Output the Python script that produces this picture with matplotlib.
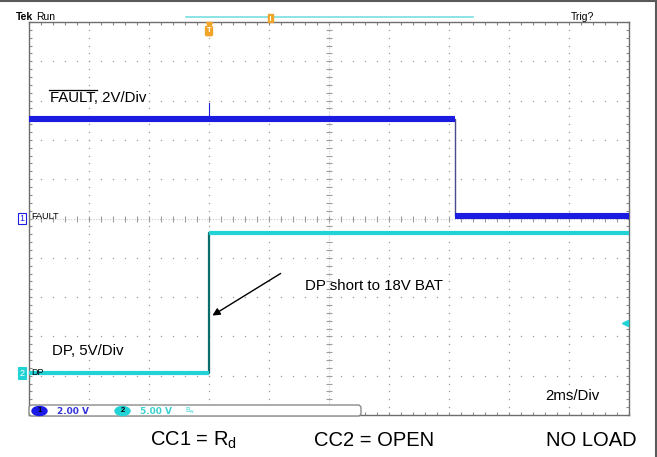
import matplotlib.pyplot as plt
import numpy as np
from matplotlib.patches import Ellipse, FancyBboxPatch, Rectangle

plt.rcParams['font.family'] = ['Liberation Sans', 'DejaVu Sans']

W, H = 657, 457
GX0, GX1, GY0, GY1 = 29, 629, 22, 415   # graticule box in pixels

# scope settings
ms_per_div = 2.0
ch1_volts_per_div, ch1_offset = 2.0, 0.0
ch2_volts_per_div, ch2_offset = 5.0, -3.94
trigger_time = 6.0      # ms
trigger_level = 6.4     # V on ch2

# FAULT (ch1): held levels, two points per segment
fault_t = [0.0, 14.2, 14.2, 20.0]
fault_v = [5.08, 5.08, 0.12, 0.12]
fault_glitch_t = [6.0, 6.0]
fault_glitch_v = [5.08, 5.9]

# DP (ch2)
dp_t = [0.0, 6.0, 6.0, 20.0]
dp_v = [0.0, 0.0, 17.9, 17.9]

FAULT_BLUE = '#1c1ce0'
DP_CYAN = '#22d3d6'
ORANGE = '#f0a428'
GRID = '#9c9c9c'


def to_div(v, scale, offset):
    return np.asarray(v, dtype=float) / scale + offset


fig = plt.figure(figsize=(W / 100, H / 100), dpi=100)
ax = fig.add_axes([GX0 / W, 1 - GY1 / H, (GX1 - GX0) / W, (GY1 - GY0) / H])
ax.set_xlim(0, 10 * ms_per_div)
ax.set_ylim(-5, 5)

# graticule
minor_x = np.arange(0, 10.01, 0.2) * ms_per_div
minor_y = np.arange(-5, 5.01, 0.2)
for k in range(1, 10):
    if k == 5:
        continue
    x = k * ms_per_div
    ax.plot(np.full_like(minor_y, x), minor_y, ls='none', marker='s', ms=0.9, mew=0, color=GRID)
for k in range(-4, 5):
    if k == 0:
        continue
    ax.plot(minor_x, np.full_like(minor_x, k), ls='none', marker='s', ms=0.9, mew=0, color=GRID)
ax.axhline(0, color='#c8c8c8', lw=0.8, ls=(0, (1, 1.5)))
ax.axvline(5 * ms_per_div, color='#c8c8c8', lw=0.8, ls=(0, (1, 1.5)))
ax.plot(minor_x, np.zeros_like(minor_x), ls='none', marker='|', ms=4, mew=0.8, color=GRID)
ax.plot(np.full_like(minor_y, 5 * ms_per_div), minor_y, ls='none', marker='_', ms=4, mew=0.8, color=GRID)

ax.set_xticks([])
ax.set_yticks([])
ax.set_xticks(minor_x, minor=True)
ax.set_yticks(minor_y, minor=True)
ax.tick_params(which='minor', direction='in', length=2.5, width=0.8, color='#8a8a8a',
               top=True, right=True, labelbottom=False, labelleft=False)
for s in ax.spines.values():
    s.set_color('#6e6e6e')
    s.set_linewidth(1)

# traces
fy = to_div(fault_v, ch1_volts_per_div, ch1_offset)
ax.plot(fault_t, fy, color='#4a4a8c', lw=1.0, zorder=3)
for i in range(0, len(fault_t), 2):
    ax.plot(fault_t[i:i + 2], fy[i:i + 2], color=FAULT_BLUE, lw=4.4, solid_capstyle='butt', zorder=4)
ax.plot(fault_glitch_t, to_div(fault_glitch_v, ch1_volts_per_div, ch1_offset),
        color=FAULT_BLUE, lw=0.8, zorder=4)

dy = to_div(dp_v, ch2_volts_per_div, ch2_offset)
ax.plot(dp_t, dy, color='#0d6b6b', lw=1.6, zorder=3)
for i in range(0, len(dp_t), 2):
    ax.plot(dp_t[i:i + 2], dy[i:i + 2], color=DP_CYAN, lw=3.0, solid_capstyle='butt', zorder=4)

ax.plot([19.85], to_div([trigger_level], ch2_volts_per_div, ch2_offset), ls='none',
        marker='<', ms=4, color=DP_CYAN, zorder=5)

# overlay in pixel coordinates for the scope chrome and annotations
ov = fig.add_axes([0, 0, 1, 1])
ov.set_xlim(0, W)
ov.set_ylim(H, 0)
ov.axis('off')

ov.plot([0, 655.5], [1, 1], color='#5a5a5a', lw=1.5)
ov.plot([655.5, 655.5], [1, H], color='#5a5a5a', lw=1.5)

ov.text(16, 17, 'Tek', fontsize=7.5, fontweight='bold', va='center', ha='left')
ov.text(36, 17, 'Run', fontsize=7.5, va='center', ha='left')
ov.text(571, 17, 'Trig?', fontsize=7.5, va='center', ha='left')
ov.plot([186, 473], [17, 17], color='#6cdcdc', lw=1.1)
ov.add_patch(Rectangle((267.5, 13.5), 5, 8, color=ORANGE, zorder=5))
ov.plot([270, 270], [15.5, 19.5], color='white', lw=0.8, zorder=6)
x_trig = GX0 + trigger_time / (10 * ms_per_div) * (GX1 - GX0)
ov.plot([x_trig], [24.5], marker='v', ms=5, color=ORANGE, ls='none')
ov.text(x_trig, 31, 'T', fontsize=5.5, fontweight='bold', color='white', ha='center', va='center',
        bbox=dict(boxstyle='round,pad=0.15', fc=ORANGE, ec=ORANGE))

# channel ground markers
y1 = 218.5 - ch1_offset * (GY1 - GY0) / 10
y2 = 218.5 - ch2_offset * (GY1 - GY0) / 10
ov.text(22, y1, '1', fontsize=6.5, color=FAULT_BLUE, ha='center', va='center',
        bbox=dict(boxstyle='square,pad=0.15', fc='white', ec=FAULT_BLUE, lw=0.8))
ov.text(31, y1 - 2, 'FAULT', fontsize=6.5, ha='left', va='center')
ov.text(22, y2, '2', fontsize=6.5, color='white', ha='center', va='center',
        bbox=dict(boxstyle='square,pad=0.15', fc=DP_CYAN, ec=DP_CYAN, lw=0.8))
ov.text(31, y2 - 0.5, 'DP', fontsize=6.5, ha='left', va='center')

# channel labels and note
ov.text(50, 98, 'FAULT, 2V/Div', fontsize=10.8, ha='left', va='center')
ov.plot([49, 97], [89.5, 89.5], color='black', lw=0.9)
ov.text(52, 351, 'DP, 5V/Div', fontsize=10.8, ha='left', va='center')
ov.text(305, 286, 'DP short to 18V BAT', fontsize=10.8, ha='left', va='center')
ov.annotate('', xy=(210, 317), xytext=(283, 272),
            arrowprops=dict(arrowstyle='-|>', color='black', lw=1.0, mutation_scale=11))
ov.text(545, 396, '2ms/Div', fontsize=10.8, ha='left', va='center')

# status bar
ov.add_patch(FancyBboxPatch((29, 405), 332, 11, boxstyle='round,pad=0,rounding_size=3',
                            fc='white', ec='#8a8a8a', lw=1, zorder=5))
ov.add_patch(Ellipse((39.5, 411), 15, 9, color='#1a1ae6', zorder=6))
ov.text(39.5, 411, '1', fontsize=5.5, fontweight='bold', color='black', ha='center', va='center', zorder=7)
ov.text(57, 411, '2.00 V', fontsize=6.5, fontweight='bold', color='#3434d8', ha='left', va='center',
        family='DejaVu Sans', zorder=7)
ov.add_patch(Ellipse((122.5, 411), 15, 9, color=DP_CYAN, zorder=6))
ov.text(122.5, 411, '2', fontsize=5.5, fontweight='bold', color='black', ha='center', va='center', zorder=7)
ov.text(140, 411, '5.00 V', fontsize=6.5, fontweight='bold', color='#3cd2d2', ha='left', va='center',
        family='DejaVu Sans', zorder=7)
ov.text(185, 411, r'$\mathregular{B_w}$', fontsize=5, color='#3cd2d2', ha='left', va='center', zorder=7)

# test conditions
ov.text(150, 440, 'CC1 = R$_{\\mathregular{d}}$', fontsize=14.5, ha='left', va='center')
ov.text(314, 440, 'CC2 = OPEN', fontsize=14.5, ha='left', va='center')
ov.text(546, 440, 'NO LOAD', fontsize=14.5, ha='left', va='center')

fig.savefig('out.png', dpi=100)
